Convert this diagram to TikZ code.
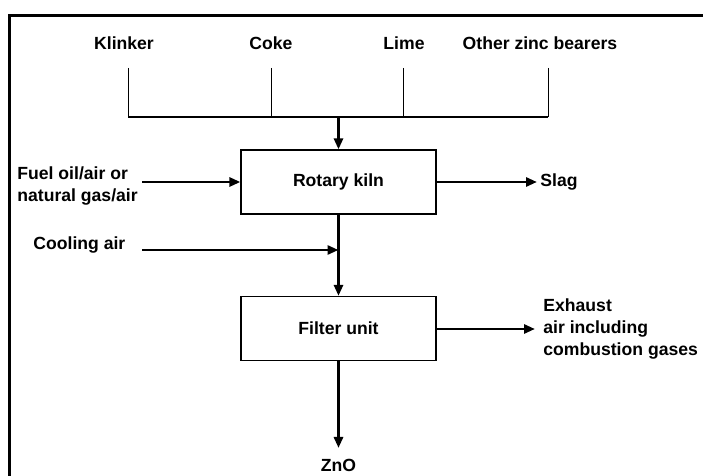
\documentclass[tikz,border=0pt]{standalone}
\usepackage{fontspec}
\setmainfont{Liberation Sans}
\usetikzlibrary{arrows.meta,positioning}

\begin{document}
\begin{tikzpicture}[x=0.5pt, y=-0.5pt,
		every node/.style={font=\fontsize{8.8}{11}\selectfont\bfseries, inner sep=0pt},
		unit/.style={draw, line width=0.6pt, minimum width=97.5pt, minimum height=32pt},
		flow/.style={line width=1.4pt, -{Triangle[length=5.5pt,width=4.5pt]}},
		feed/.style={line width=0.5pt}]
	\useasboundingbox (0,0) rectangle (703,476);
	% === 外框 ===
	\draw[line width=1.5pt] (9.5,476) -- (9.5,15.5) -- (703,15.5);
	
	% 原料
	\node (klinker) at (124,43) {Klinker};
	\node (coke) at (271,43) {Coke};
	\node (lime) at (404,43) {Lime};
	\node (other) at (540,43) {Other zinc bearers};
	
	% 设备
	\node[unit] (kiln) at (338.5,182) {Rotary kiln};
	\node[unit] (filter) at (338.5,328.5) {Filter unit};
	
	% 进料汇集
	\foreach \name/\x in {k/128, c/271, l/403, o/548} {
		\coordinate (\name top) at (\x,68);
		\coordinate (\name bot) at (\x,117);
		\draw[feed] (\name top) -- (\name bot);
	}
	\coordinate (join) at (338.5,117);
	\draw[line width=0.8pt] (kbot) -- (obot);
	\draw[flow] (join) -- (kiln);
	
	% 燃料与冷却空气
	\node[anchor=west, align=left] (fuel) at (17,185.5) {Fuel oil/air or\\natural gas/air};
	\coordinate (fuelin) at (142,182);
	\draw[flow] (fuelin) -- (kiln);
	\node[anchor=west] (cooling) at (33,245) {Cooling air};
	\coordinate (coolin) at (142,250);
	\coordinate (coolend) at (338.5,250);
	\draw[flow] (kiln) -- (filter);
	\draw[flow] (coolin) -- (coolend);
	
	% 产物
	\node[anchor=west] (slag) at (540,182) {Slag};
	\coordinate (slagend) at (537,182);
	\draw[flow] (kiln) -- (slagend);
	\node[anchor=west, align=left] (exhaust) at (543,329) {Exhaust\\air including\\combustion gases};
	\coordinate (exhend) at (535,329);
	\draw[flow] (filter.east |- exhend) -- (exhend);
	\node (zno) at (338.5,465) {ZnO};
	\coordinate (znoend) at (338.5,448);
	\draw[flow] (filter) -- (znoend);
\end{tikzpicture}
\end{document}
